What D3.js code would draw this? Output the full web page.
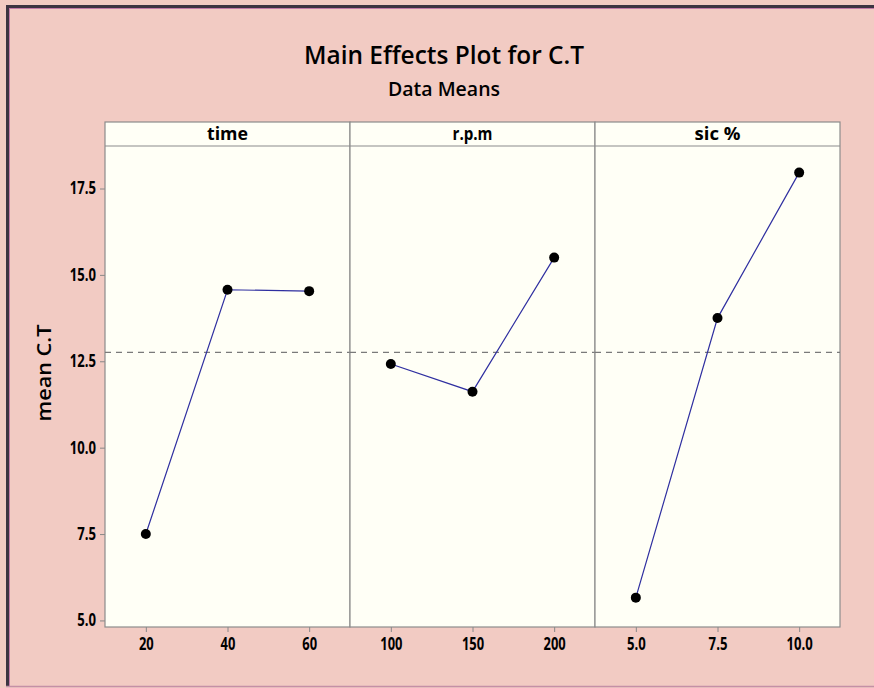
<!DOCTYPE html>
<html>
<head>
<meta charset="utf-8">
<script src="https://cdn.jsdelivr.net/npm/d3@7"></script>
<style>
  html, body { margin: 0; padding: 0; background: #f2cbc3; }
  svg { display: block; }
  text { font-family: "Open Sans", "DejaVu Sans", sans-serif; fill: #000; }
</style>
</head>
<body>
<div id="chart"></div>
<script>
// factor panels
const FACTORS = ["time", "r.p.m", "sic %"];
const LEVELS = [[20, 40, 60], [100, 150, 200], [5.0, 7.5, 10.0]];
const MEANS = [[7.5, 14.57, 14.53], [12.42, 11.62, 15.5], [5.66, 13.75, 17.96]];
const X_DOMAINS = [[10, 70], [75, 225], [3.75, 11.25]];
const X_TICK_LABELS = [["20", "40", "60"], ["100", "150", "200"], ["5.0", "7.5", "10.0"]];
const Y_TICKS = [5.0, 7.5, 10.0, 12.5, 15.0, 17.5];
const GRAND_MEAN = 12.76;

const W = 874, H = 688;
const m = { left: 105, right: 34, stripTop: 122, stripBottom: 146, bottom: 627 };
const plotW = W - m.left - m.right;
const panelW = plotW / FACTORS.length;

// rough widths of the condensed labels in the original
const labelW = s => s.replace(/\./g, "").length * 7.4 + (s.match(/\./g) || []).length * 4;
const stripW = { "time": 41, "r.p.m": 40, "sic %": 46 };

const svg = d3.select("#chart").append("svg").attr("width", W).attr("height", H);

// outer frame
svg.append("rect").attr("x", 0).attr("y", 0).attr("width", W).attr("height", H).attr("fill", "#f2cbc3");
svg.append("line").attr("x1", 6).attr("x2", W).attr("y1", 6.5).attr("y2", 6.5).attr("stroke", "#3d3442").attr("stroke-width", 3);
svg.append("line").attr("x1", 6).attr("x2", W).attr("y1", 8.5).attr("y2", 8.5).attr("stroke", "#c27aa6").attr("stroke-width", 1);
svg.append("line").attr("x1", 7.5).attr("x2", 7.5).attr("y1", 5).attr("y2", 687).attr("stroke", "#3d3442").attr("stroke-width", 3);
svg.append("line").attr("x1", 9.5).attr("x2", 9.5).attr("y1", 8).attr("y2", 687).attr("stroke", "#c27aa6").attr("stroke-width", 1);
svg.append("line").attr("x1", 6).attr("x2", W).attr("y1", 686.5).attr("y2", 686.5).attr("stroke", "#c490a6").attr("stroke-width", 1.5);

// titles
svg.append("text").attr("x", 444).attr("y", 64).attr("text-anchor", "middle")
  .attr("font-size", 26).attr("font-weight", 600)
  .attr("textLength", 280).attr("lengthAdjust", "spacingAndGlyphs")
  .text("Main Effects Plot for C.T");
svg.append("text").attr("x", 444).attr("y", 96).attr("text-anchor", "middle")
  .attr("font-size", 19).attr("font-weight", 600)
  .attr("textLength", 112).attr("lengthAdjust", "spacingAndGlyphs")
  .text("Data Means");

// y axis
const y = d3.scaleLinear().domain([4.81, 18.73]).range([m.bottom, m.stripBottom]);

svg.append("text")
  .attr("transform", `translate(51,373) rotate(-90)`)
  .attr("text-anchor", "middle").attr("font-size", 20).attr("font-weight", 600)
  .attr("textLength", 97).attr("lengthAdjust", "spacingAndGlyphs")
  .text("mean C.T");

const yAxis = svg.append("g").attr("transform", `translate(${m.left},0)`)
  .call(d3.axisLeft(y).tickValues(Y_TICKS).tickFormat(d3.format(".1f")).tickSize(5).tickPadding(4));
yAxis.select(".domain").remove();
yAxis.selectAll("line").attr("stroke", "#888");
yAxis.selectAll("text").attr("font-size", 17).attr("font-weight", 700)
  .attr("font-family", "'Open Sans', sans-serif").attr("fill", "#000")
  .attr("textLength", d => labelW(d3.format(".1f")(d))).attr("lengthAdjust", "spacingAndGlyphs");

FACTORS.forEach((f, i) => {
  const x0 = m.left + i * panelW;
  const g = svg.append("g").attr("transform", `translate(${x0},0)`);
  const x = d3.scaleLinear().domain(X_DOMAINS[i]).range([0, panelW]);

  // panel background + strip
  g.append("rect").attr("x", 0).attr("y", m.stripTop).attr("width", panelW).attr("height", m.bottom - m.stripTop)
    .attr("fill", "#fffff6").attr("stroke", "#8c8c8c").attr("stroke-width", 1.2);
  g.append("line").attr("x1", 0).attr("x2", panelW).attr("y1", m.stripBottom).attr("y2", m.stripBottom)
    .attr("stroke", "#8c8c8c").attr("stroke-width", 1.2);
  g.append("text").attr("x", panelW / 2).attr("y", m.stripBottom - 6).attr("text-anchor", "middle")
    .attr("font-size", 18).attr("font-weight", 700)
    .attr("textLength", stripW[f]).attr("lengthAdjust", "spacingAndGlyphs")
    .text(f);

  // grand mean reference
  g.append("line").attr("x1", 0).attr("x2", panelW).attr("y1", y(GRAND_MEAN)).attr("y2", y(GRAND_MEAN))
    .attr("stroke", "#7a7a7a").attr("stroke-width", 1.2).attr("stroke-dasharray", "6,5");

  // x axis
  const xAxis = g.append("g").attr("transform", `translate(0,${m.bottom})`)
    .call(d3.axisBottom(x).tickValues(LEVELS[i]).tickFormat((d, j) => X_TICK_LABELS[i][j]).tickSize(5).tickPadding(6));
  xAxis.select(".domain").remove();
  xAxis.selectAll("line").attr("stroke", "#888");
  xAxis.selectAll("text").attr("font-size", 17).attr("font-weight", 700)
    .attr("font-family", "'Open Sans', sans-serif").attr("fill", "#000")
    .attr("textLength", (d, j) => labelW(X_TICK_LABELS[i][j])).attr("lengthAdjust", "spacingAndGlyphs");

  const pts = LEVELS[i].map((lv, j) => ({ x: lv, y: MEANS[i][j] }));
  g.append("path").datum(pts)
    .attr("fill", "none").attr("stroke", "#2f2fa0").attr("stroke-width", 1.2)
    .attr("d", d3.line().x(d => x(d.x)).y(d => y(d.y)));
  g.selectAll("circle").data(pts).enter().append("circle")
    .attr("cx", d => x(d.x)).attr("cy", d => y(d.y)).attr("r", 5).attr("fill", "#000");
});
</script>
</body>
</html>
